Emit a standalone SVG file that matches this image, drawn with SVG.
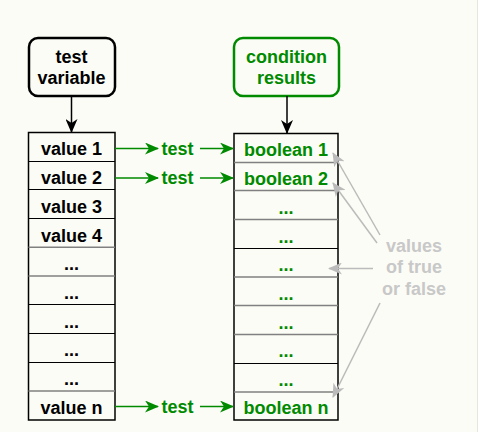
<svg xmlns="http://www.w3.org/2000/svg" width="480" height="432" viewBox="0 0 480 432">
<defs>
<style>
text{font-family:"Liberation Sans",Arial,sans-serif;font-weight:bold;font-size:18px;text-anchor:middle}
.k{fill:#000}
.g{fill:#008a00}
.gr{fill:#c8c8c8}
.cell{fill:none;stroke:#000;stroke-width:1.5}
.sepk{stroke:#000;stroke-width:1}
.sepg{stroke:#808080;stroke-width:1.6}
.ck{stroke:#000;stroke-width:1.5;fill:none}
.cg{stroke:#008a00;stroke-width:1.5;fill:none}
.cgr{stroke:#bbbbbb;stroke-width:1.5;fill:none}
</style>
<marker id="ak" markerUnits="userSpaceOnUse" markerWidth="14" markerHeight="12" viewBox="0 0 14 12" refX="13" refY="6" orient="auto"><path d="M0,0 L14,6 L0,12 L4,6 z" fill="#000"/></marker>
<marker id="ag" markerUnits="userSpaceOnUse" markerWidth="14" markerHeight="12" viewBox="0 0 14 12" refX="13" refY="6" orient="auto"><path d="M0,0 L14,6 L0,12 L4,6 z" fill="#008a00"/></marker>
<marker id="agr" markerUnits="userSpaceOnUse" markerWidth="14" markerHeight="12" viewBox="0 0 14 12" refX="13" refY="6" orient="auto"><path d="M0,0 L14,6 L0,12 L4,6 z" fill="#bbbbbb"/></marker>
</defs>
<rect x="0" y="0" width="480" height="432" fill="#ffffff"/>
<rect x="0" y="0" width="477" height="432" fill="#fcfcf6"/>
<line x1="477.5" y1="0" x2="477.5" y2="432" stroke="#e6e6e0" stroke-width="1"/>

<g id="test-variable">
<rect x="29" y="38" width="86" height="58" rx="9" fill="none" stroke="#000" stroke-width="2.5"/>
<text class="k" x="71.5" y="62.5">test</text>
<text class="k" x="71.5" y="84">variable</text>
</g>

<g id="condition-results">
<rect x="234" y="38" width="105" height="58" rx="9" fill="none" stroke="#008a00" stroke-width="2.5"/>
<text class="g" x="286.5" y="62.5">condition</text>
<text class="g" x="286.5" y="84">results</text>
</g>

<g id="values">
<rect class="cell" x="28.5" y="132.5" width="86.5" height="287.5"/>
<line class="sepk" x1="28.5" y1="161.5" x2="115" y2="161.5"/>
<line class="sepk" x1="28.5" y1="189.5" x2="115" y2="189.5"/>
<line class="sepk" x1="28.5" y1="218.5" x2="115" y2="218.5"/>
<line class="sepg" x1="28.5" y1="247.3" x2="115" y2="247.3"/>
<line class="sepg" x1="28.5" y1="276" x2="115" y2="276"/>
<line class="sepk" x1="28.5" y1="304.5" x2="115" y2="304.5"/>
<line class="sepk" x1="28.5" y1="333.5" x2="115" y2="333.5"/>
<line class="sepk" x1="28.5" y1="362.5" x2="115" y2="362.5"/>
<line class="sepg" x1="28.5" y1="391" x2="115" y2="391"/>
<text class="k" x="71.5" y="155">value 1</text>
<text class="k" x="71.5" y="184">value 2</text>
<text class="k" x="71.5" y="212.5">value 3</text>
<text class="k" x="71.5" y="241.5">value 4</text>
<text class="k" x="71.5" y="270">...</text>
<text class="k" x="71.5" y="298.5">...</text>
<text class="k" x="71.5" y="327.5">...</text>
<text class="k" x="71.5" y="356">...</text>
<text class="k" x="71.5" y="385">...</text>
<text class="k" x="71.5" y="413.5">value n</text>
</g>

<g id="booleans">
<rect class="cell" x="234" y="133.5" width="104" height="286.5"/>
<line class="sepg" x1="234" y1="162.5" x2="338" y2="162.5"/>
<line class="sepg" x1="234" y1="190.5" x2="338" y2="190.5"/>
<line class="sepg" x1="234" y1="219.5" x2="338" y2="219.5"/>
<line class="sepk" x1="234" y1="248.5" x2="338" y2="248.5"/>
<line class="sepg" x1="234" y1="277" x2="338" y2="277"/>
<line class="sepg" x1="234" y1="305.5" x2="338" y2="305.5"/>
<line class="sepg" x1="234" y1="334.5" x2="338" y2="334.5"/>
<line class="sepk" x1="234" y1="363.5" x2="338" y2="363.5"/>
<line class="sepg" x1="234" y1="392" x2="338" y2="392"/>
<text class="g" x="286" y="156">boolean 1</text>
<text class="g" x="286" y="185">boolean 2</text>
<text class="g" x="286" y="213.5">...</text>
<text class="g" x="286" y="242.5">...</text>
<text class="g" x="286" y="271">...</text>
<text class="g" x="286" y="299.5">...</text>
<text class="g" x="286" y="328.5">...</text>
<text class="g" x="286" y="357">...</text>
<text class="g" x="286" y="386">...</text>
<text class="g" x="286" y="413.5">boolean n</text>
</g>

<g id="test-labels">
<text class="g" x="177.5" y="155">test</text>
<text class="g" x="177.5" y="184">test</text>
<text class="g" x="177.5" y="413">test</text>
</g>

<g id="note">
<text class="gr" x="414" y="252">values</text>
<text class="gr" x="414" y="273">of true</text>
<text class="gr" x="414" y="295">or false</text>
</g>

<g id="connectors">
<line class="ck" x1="71.5" y1="97" x2="71.5" y2="132" marker-end="url(#ak)"/>
<line class="ck" x1="287" y1="96" x2="287" y2="133" marker-end="url(#ak)"/>
<line class="cg" x1="115" y1="148.5" x2="158" y2="148.5" marker-end="url(#ag)"/>
<line class="cg" x1="200" y1="148.5" x2="233" y2="148.5" marker-end="url(#ag)"/>
<line class="cg" x1="115" y1="178" x2="158" y2="178" marker-end="url(#ag)"/>
<line class="cg" x1="200" y1="178" x2="233" y2="178" marker-end="url(#ag)"/>
<line class="cg" x1="115" y1="406.5" x2="158" y2="406.5" marker-end="url(#ag)"/>
<line class="cg" x1="200" y1="406.5" x2="233" y2="406.5" marker-end="url(#ag)"/>
<line class="cgr" x1="380" y1="235" x2="333" y2="153" marker-end="url(#agr)"/>
<line class="cgr" x1="377" y1="243" x2="333" y2="183" marker-end="url(#agr)"/>
<line class="cgr" x1="373" y1="268.5" x2="329" y2="268.5" marker-end="url(#agr)"/>
<line class="cgr" x1="380" y1="303" x2="333" y2="397" marker-end="url(#agr)"/>
</g>
</svg>
